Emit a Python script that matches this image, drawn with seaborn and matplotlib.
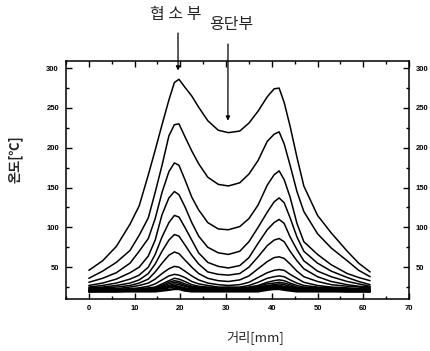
import numpy as np
import pandas as pd
import matplotlib
matplotlib.use("Agg")
import matplotlib.pyplot as plt
import seaborn as sns
from matplotlib.ticker import MultipleLocator

# ---- data ----
dist = [0, 3, 6, 9, 11, 13, 14.5, 16, 17.5, 18.7, 19.7, 21, 22.5, 24, 26, 28.3, 30.5,
        33, 35, 37, 39, 40.5, 41.6, 42.7, 44, 45.5, 47, 50, 53, 56.5, 59, 61.5]

c01 = [46, 58, 76, 104, 127, 166, 197, 229, 260, 282, 286, 276, 265, 251, 234, 222, 219, 221, 231, 246, 264, 274, 275, 257, 227, 188, 152, 115, 93, 70, 55, 44]
c02 = [36, 45, 56, 71, 90, 112, 144, 178, 215, 229, 230, 214, 196, 180, 163, 154, 152, 156, 167, 184, 208, 217, 220, 205, 178, 145, 120, 92, 74, 58, 46, 38]
c03 = [31, 36, 43, 55, 70, 86, 111, 144, 170, 181, 178, 160, 138, 122, 106, 98, 97, 101, 111, 128, 153, 166, 171, 160, 138, 105, 82, 66, 53, 42, 37, 33]
c04 = [27, 30, 35, 43, 50, 64, 84, 116, 137, 145, 141, 126, 106, 89, 75, 68, 66, 70, 82, 100, 119, 132, 137, 131, 112, 88, 70, 55, 45, 37, 32, 28]
c05 = [25, 27, 30, 35, 40, 50, 66, 88, 106, 115, 113, 100, 84, 68, 56, 51, 49, 52, 62, 80, 97, 106, 110, 105, 88, 72, 58, 45, 38, 32, 29, 26]
c06 = [24, 25, 27, 30, 34, 42, 54, 70, 84, 91, 89, 78, 65, 54, 44, 41, 40, 42, 50, 63, 77, 84, 86, 82, 70, 58, 48, 38, 32, 28, 26, 25]
c07 = [23, 24, 25, 27, 30, 35, 44, 55, 65, 69, 67, 59, 50, 42, 36, 33, 32, 34, 39, 48, 57, 62, 63, 61, 54, 45, 38, 32, 28, 26, 25, 24]
c08 = [22, 23, 23, 25, 27, 30, 35, 42, 48, 51, 50, 45, 39, 34, 30, 28, 27, 28, 31, 37, 43, 46, 47, 46, 41, 36, 31, 27, 25, 24, 23, 23]
c09 = [21, 22, 22, 23, 24, 26, 29, 34, 39, 41, 40, 37, 32, 29, 27, 25, 25, 25, 27, 31, 36, 38, 39, 38, 34, 30, 27, 25, 24, 23, 22, 22]
c10 = [21, 21, 22, 22, 23, 24, 25, 29, 33, 36, 35, 32, 28, 26, 25, 24, 24, 24, 25, 27, 31, 33, 34, 33, 30, 27, 25, 24, 23, 22, 22, 21]
c11 = [21, 21, 21, 22, 22, 23, 24, 27, 31, 33, 32, 29, 26, 25, 24, 23, 23, 23, 24, 26, 29, 30, 31, 30, 28, 25, 24, 23, 22, 22, 21, 21]
c12 = [20, 21, 21, 21, 22, 22, 23, 26, 29, 31, 30, 27, 25, 24, 23, 22, 22, 22, 23, 25, 27, 28, 29, 28, 26, 24, 23, 22, 22, 21, 21, 21]
c13 = [20, 20, 21, 21, 21, 22, 22, 25, 27, 29, 28, 26, 24, 23, 22, 22, 22, 22, 22, 24, 26, 27, 27, 26, 25, 23, 22, 22, 21, 21, 21, 20]
c14 = [20, 20, 20, 21, 21, 21, 22, 24, 26, 27, 26, 24, 23, 22, 21, 21, 21, 21, 22, 23, 25, 26, 26, 25, 24, 22, 22, 21, 21, 21, 20, 20]
c15 = [20, 20, 20, 20, 21, 21, 21, 23, 25, 26, 25, 23, 22, 22, 21, 21, 21, 21, 21, 22, 24, 25, 25, 24, 23, 22, 21, 21, 21, 20, 20, 20]
c16 = [19, 20, 20, 20, 20, 20, 21, 22, 24, 25, 24, 22, 21, 21, 20, 20, 20, 20, 20, 21, 23, 24, 24, 23, 22, 21, 21, 20, 20, 20, 20, 19]
c17 = [19, 19, 19, 20, 20, 20, 20, 21, 22, 23, 23, 21, 20, 20, 20, 20, 20, 20, 20, 20, 22, 23, 23, 22, 21, 20, 20, 20, 20, 19, 19, 19]
c18 = [19, 19, 19, 19, 19, 19, 19, 20, 21, 22, 22, 20, 19, 19, 19, 19, 19, 19, 19, 19, 21, 22, 22, 21, 20, 19, 19, 19, 19, 19, 19, 19]

curves = [c01, c02, c03, c04, c05, c06, c07, c08, c09, c10, c11, c12, c13, c14, c15, c16, c17, c18]

x_ticks = [0, 10, 20, 30, 40, 50, 60, 70]
y_ticks = [50, 100, 150, 200, 250, 300]
x_label = "거리[mm]"
y_label = "온도[℃]"
note_left = "협 소 부"
note_right = "용단부"

# ---- build long-form table ----
rows = []
for i, c in enumerate(curves):
    for xv, yv in zip(dist, c):
        rows.append({"curve": i, "x": xv, "temp": yv})
df = pd.DataFrame(rows)

sns.set_style("ticks")
plt.rcParams["font.family"] = ["Noto Sans CJK KR", "DejaVu Sans"]

W, H = 431, 351
fig = plt.figure(figsize=(W / 100, H / 100), dpi=100)
ax = fig.add_axes([66 / W, 1 - 299 / H, (409 - 66) / W, (299 - 61) / H])

sns.lineplot(data=df, x="x", y="temp", units="curve", estimator=None,
             color="black", linewidth=1.1, ax=ax, legend=False)

ax.set_xlim(-5, 70)
ax.set_ylim(10, 309)
ax.set_xticks(x_ticks)
ax.set_yticks(y_ticks)
ax.xaxis.set_minor_locator(MultipleLocator(5))
ax.yaxis.set_minor_locator(MultipleLocator(25))
ax.tick_params(which="both", direction="in", top=True, right=True,
               labelright=True, width=1, colors="black")
ax.tick_params(which="major", length=4)
ax.tick_params(which="minor", length=2)
ax.tick_params(axis="y", pad=5)
ax.tick_params(axis="x", pad=4)
for tk in ax.xaxis.get_major_ticks() + ax.yaxis.get_major_ticks():
    for lab in (tk.label1, tk.label2):
        lab.set_fontfamily("Liberation Sans")
        lab.set_fontweight("bold")
        lab.set_fontsize(5.5)
for sp in ax.spines.values():
    sp.set_linewidth(1.1)
    sp.set_color("black")
ax.set_xlabel("")
ax.set_ylabel("")

fig.text(255 / W, 1 - 337 / H, x_label, ha="center", va="center", fontsize=9.5)
fig.text(15 / W, 1 - 159 / H, y_label, ha="center", va="center", fontsize=9.5,
         rotation=90, fontweight="bold")

fig.text(176 / W, 1 - 15 / H, note_left, ha="center", va="center", fontsize=11.5)
fig.text(231 / W, 1 - 24 / H, note_right, ha="center", va="center", fontsize=11.5)

ax.annotate("", xy=(19.5, 297), xycoords="data",
            xytext=(178 / W, 1 - 33 / H), textcoords="figure fraction",
            arrowprops=dict(arrowstyle="-|>", color="black", lw=0.9,
                            mutation_scale=6, shrinkA=0, shrinkB=0),
            annotation_clip=False)
ax.annotate("", xy=(30.4, 234), xycoords="data",
            xytext=(228 / W, 1 - 44 / H), textcoords="figure fraction",
            arrowprops=dict(arrowstyle="-|>", color="black", lw=0.9,
                            mutation_scale=6, shrinkA=0, shrinkB=0),
            annotation_clip=False)

fig.savefig("out.png", dpi=100)
